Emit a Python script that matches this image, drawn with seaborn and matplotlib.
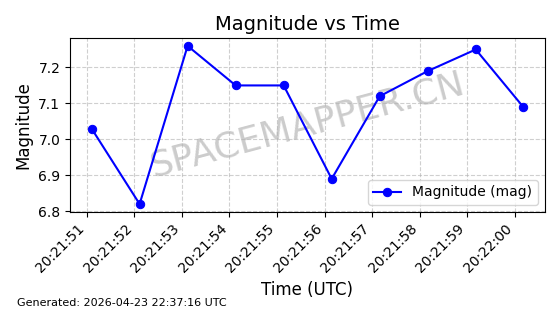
import matplotlib
matplotlib.use("Agg")
import matplotlib.pyplot as plt
import matplotlib.dates as mdates
import seaborn as sns
import pandas as pd

times = ["2026-04-23 20:21:51.100", "2026-04-23 20:21:52.110", "2026-04-23 20:21:53.120",
         "2026-04-23 20:21:54.130", "2026-04-23 20:21:55.140", "2026-04-23 20:21:56.150",
         "2026-04-23 20:21:57.160", "2026-04-23 20:21:58.170", "2026-04-23 20:21:59.180",
         "2026-04-23 20:22:00.180"]
magnitudes = [7.03, 6.82, 7.26, 7.15, 7.15, 6.89, 7.12, 7.19, 7.25, 7.09]

df = pd.DataFrame({"Time": pd.to_datetime(times), "Magnitude": magnitudes})

fig = plt.figure(figsize=(5.6, 3.14), dpi=100)
ax = fig.add_axes([0.125, 0.325, 0.848, 0.554])
sns.lineplot(data=df, x="Time", y="Magnitude", marker="o", color="blue",
             markersize=6, markeredgecolor="blue", linewidth=1.5,
             label="Magnitude (mag)", ax=ax, zorder=3)
ax.set_title("Magnitude vs Time", fontsize=14)
ax.set_xlabel("Time (UTC)", fontsize=12)
ax.set_ylabel("Magnitude", fontsize=12)
ax.xaxis.set_major_locator(mdates.SecondLocator())
ax.xaxis.set_major_formatter(mdates.DateFormatter("%H:%M:%S"))
plt.setp(ax.get_xticklabels(), rotation=45, ha="right")
ax.grid(True, linestyle="--", alpha=0.6)
ax.legend(loc="lower right", fontsize=10)
ax.text(0.5, 0.5, "SPACEMAPPER.CN", transform=ax.transAxes, fontsize=26,
        color="gray", alpha=0.4, rotation=15, ha="center", va="center", zorder=1)
fig.text(0.03, 0.025, "Generated: 2026-04-23 22:37:16 UTC", fontsize=8)
fig.savefig("out.png", dpi=100)
